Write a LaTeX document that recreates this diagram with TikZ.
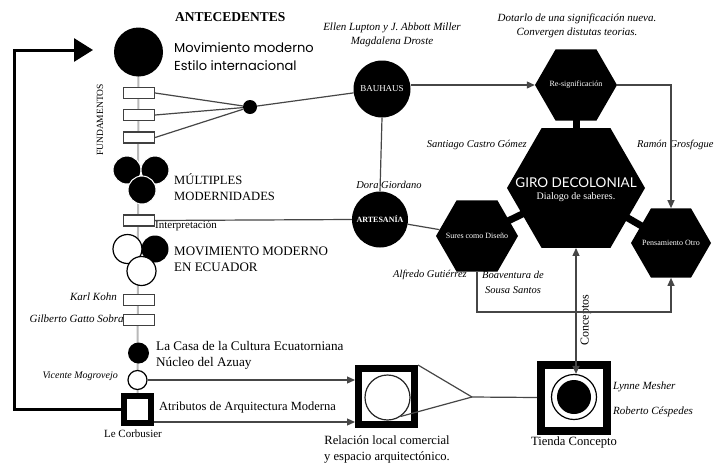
\documentclass[tikz,border=0pt]{standalone}
\usepackage{fontspec}
\setmainfont{Liberation Serif}
\newfontfamily\geo{Poppins}
\newfontfamily\girofont{Lato}
\usetikzlibrary{shapes.geometric,arrows.meta,calc,backgrounds}
\begin{document}
\begin{tikzpicture}[x=1pt,y=-1pt,
  conn/.style={draw=gray!55!black, line width=1.2pt},
  spine/.style={draw=gray!55, line width=2pt},
  tip/.style={-{Triangle[length=8pt,width=7pt]}},
  disc/.style={circle, fill=black, inner sep=0pt},
  wdisc/.style={circle, fill=white, draw=black, line width=1.2pt, inner sep=0pt},
  hexa/.style={regular polygon, regular polygon sides=6, fill=black, inner sep=0pt},
  fbox/.style={rectangle, draw=gray!50!black, fill=white, line width=1.2pt, minimum width=31pt, minimum height=11pt, inner sep=0pt},
  sq/.style={rectangle, draw=black, fill=white, inner sep=0pt},
  it/.style={font=\itshape\fontsize{10}{14}\selectfont, inner sep=0pt, align=center},
  ser/.style={font=\fontsize{12}{16}\selectfont, inner sep=0pt, align=left},
  wl/.style={text=white, font=\fontsize{8}{9}\selectfont, inner sep=0pt},
]
\useasboundingbox (0,0) rectangle (720,464);

% ---- left column ----
\node[disc, minimum size=49pt] (mm) at (138.5,52) {};
\node[fbox] (f1) at (139,93) {};
\node[fbox] (f2) at (139,115) {};
\node[fbox] (f3) at (139,137.5) {};
\node[disc, minimum size=14pt] (dot) at (250,107) {};
\node[disc, draw=white, line width=1pt, minimum size=28pt] (m1) at (127,170) {};
\node[disc, draw=white, line width=1pt, minimum size=28pt] (m2) at (155,170) {};
\node[disc, draw=white, line width=1pt, minimum size=28pt] (m3) at (142,190) {};
\node[fbox] (interp) at (139,220.5) {};
\node[wdisc, minimum size=29pt] (e1) at (127.5,249) {};
\node[disc, minimum size=27pt] (e2) at (155,249) {};
\node[wdisc, minimum size=29pt] (e3) at (141.5,271) {};
\node[it, font=\itshape\fontsize{11}{12}\selectfont, anchor=east] (kkt) at (117,297) {Karl Kohn};
\node[it, font=\itshape\fontsize{11}{12}\selectfont, anchor=east] (ggt) at (127,319) {Gilberto Gatto Sobral};
\node[fbox] (kk) at (139,300) {};
\node[fbox] (gg) at (139,320) {};
\node[disc, minimum size=21pt] (casa) at (138.5,353) {};
\node[wdisc, minimum size=19pt] (vic) at (137.5,380) {};
\node[sq, line width=6pt, minimum size=27pt] (lc) at (137.5,409.5) {};

% ---- centre / right ----
\node[disc, minimum size=57pt] (bau) at (382,89) {};
\node[disc, minimum size=56pt] (art) at (380,219.5) {};
\node[hexa, minimum size=82pt] (resig) at (576,85) {};
\node[hexa, minimum size=138pt] (giro) at (576,188) {};
\node[hexa, minimum size=82pt] (sures) at (477,236) {};
\node[hexa, minimum size=80pt] (pens) at (671,243) {};
\node[sq, line width=7pt, minimum size=56pt] (rel) at (386.5,396.5) {};
\node[circle, draw=gray!30!black, line width=1.2pt, minimum size=45pt, inner sep=0pt] (relc) at (387.5,397.5) {};
\node[sq, line width=8pt, minimum size=66pt] (tienda) at (574,397.5) {};
\node[wdisc, minimum size=45pt] (ring) at (574,397) {};
\node[disc, minimum size=34pt] (core) at (574,397) {};
\coordinate (apex) at (472,397);
\coordinate (low) at (477,312);
\coordinate (cornerL) at (14,50);
\coordinate (arrEnd) at (93,50);
\coordinate (a2) at ($(lc.east)+(0,12.5)$);

% ---- background: spine and thick bars ----
\begin{scope}[on background layer]
  \fill[white] (0,0) rectangle (720,464);
  \draw[spine] (mm.center) -- (lc.center);
  \draw[line width=7pt] (resig.center) -- (giro.center);
  \draw[line width=7pt] (giro.center) -- (sures.center);
  \draw[line width=7pt] (giro.center) -- (pens.center);
\end{scope}

% ---- texts ----
\node[font=\bfseries\fontsize{13.5}{15}\selectfont, anchor=west, inner sep=0pt] (ant) at (175,17) {ANTECEDENTES};
\node[font=\geo\fontsize{13}{18}\selectfont, anchor=west, align=left, inner sep=0pt] (mmt) at (174,57) {Movimiento moderno\\Estilo internacional};
\node[font=\fontsize{9.5}{11}\selectfont, rotate=90, inner sep=0pt] (fund) at (100,120) {FUNDAMENTOS};
\node[ser, font=\fontsize{12.6}{16}\selectfont, anchor=west] (mlt) at (174,187) {MÚLTIPLES\\MODERNIDADES};
\node[font=\fontsize{11}{12}\selectfont, anchor=west, inner sep=0pt] (intt) at (155,226) {Interpretación};
\node[ser, font=\fontsize{13}{16}\selectfont, anchor=west] (mme) at (174,259) {MOVIMIENTO MODERNO\\EN ECUADOR};
\node[ser, font=\fontsize{13.2}{16.5}\selectfont, anchor=west] (casat) at (156,355.5) {La Casa de la Cultura Ecuatorniana\\Núcleo del Azuay};
\node[it, font=\itshape\fontsize{10}{12}\selectfont, anchor=east] (vict) at (118,376) {Vicente Mogrovejo};
\node[ser, font=\fontsize{12.5}{16}\selectfont, anchor=west] (atrt) at (159,407) {Atributos de Arquitectura Moderna};
\node[font=\fontsize{11}{12}\selectfont, inner sep=0pt] (lct) at (133,434) {Le Corbusier};
\node[ser, font=\fontsize{12.6}{15.5}\selectfont, align=center] (relt) at (387,449.5) {Relación local comercial\\y espacio arquitectónico.};
\node[ser, font=\fontsize{12.6}{15}\selectfont, align=center] (tit) at (574,442) {Tienda Concepto};
\node[it, font=\itshape\fontsize{11}{14}\selectfont, anchor=west] (lyn) at (613,387) {Lynne Mesher};
\node[it, font=\itshape\fontsize{11}{14}\selectfont, anchor=west] (rob) at (613,412) {Roberto Céspedes};
\node[font=\fontsize{12}{14}\selectfont, rotate=90, inner sep=0pt] (conct) at (586,320) {Conceptos};
\node[it, font=\itshape\fontsize{11}{14}\selectfont] (ellen) at (392,35) {Ellen Lupton y J. Abbott Miller\\Magdalena Droste};
\node[it, font=\itshape\fontsize{11}{14}\selectfont] (dot2) at (577,26) {Dotarlo de una significación nueva.\\Convergen distutas teorias.};
\node[it, font=\itshape\fontsize{10.5}{14}\selectfont, anchor=east] (sant) at (527,145) {Santiago Castro Gómez};
\node[it, font=\itshape\fontsize{10.5}{14}\selectfont, anchor=west] (ramon) at (637,145) {Ramón Grosfogue};
\node[it, font=\itshape\fontsize{10.5}{14}\selectfont] (dora) at (389,185) {Dora Giordano};
\node[it, font=\itshape\fontsize{10.5}{14}\selectfont] (alf) at (430,275) {Alfredo Gutiérrez};
\node[it, font=\itshape\fontsize{10.5}{15}\selectfont] (boa) at (513,282.5) {Boaventura de\\Sousa Santos};

% labels inside shapes
\node[wl, font=\fontsize{9}{10}\selectfont] at (bau.center) {BAUHAUS};
\node[wl, font=\bfseries\fontsize{8}{9}\selectfont] at (art.center) {ARTESANÍA};
\node[wl] at (resig.center) {Re-significación};
\node[wl] at (sures.center) {Sures como Diseño};
\node[wl] at (pens.center) {Pensamiento Otro};
\node[text=white, font=\girofont\fontsize{13.5}{15}\selectfont, inner sep=0pt] (girot) at (576,183) {GIRO DECOLONIAL};
\node[text=white, font=\fontsize{10}{11}\selectfont, inner sep=0pt] (dial) at (576,197) {Dialogo de saberes.};

% ---- connectors ----
\draw[conn] (f1.east) -- (dot);
\draw[conn] (f2.east) -- (dot);
\draw[conn] (f3.east) -- (dot);
\draw[conn] (dot) -- (bau);
\draw[conn, tip] (bau.east |- resig.west) -- (resig.west);
\draw[conn, tip] (resig.east) -| (pens.north);
\draw[conn] (bau.south) -- (art.north);
\draw[conn] (interp.east) -- (art.west);
\draw[conn] (art) -- (sures);
\draw[conn, tip] (sures.south) -- (low) -| (pens.south);
\draw[conn, {Triangle[length=8pt,width=7pt]}-{Triangle[length=8pt,width=7pt]}] (giro.south) -- (giro.south |- ring.north);
\draw[conn, tip] (vic.east) -- (vic.east -| rel.west);
\draw[conn, tip] (a2) -- (a2 -| rel.west);
\draw[conn] (rel.north east) -- (apex);
\draw[conn] (relc.-55) -- (apex);
\draw[conn] (apex) -- (tienda.west);
\draw[line width=3pt, -{Triangle[length=19pt,width=23pt]}] (lc.west) -| (cornerL) -- (arrEnd);
\end{tikzpicture}
\end{document}
